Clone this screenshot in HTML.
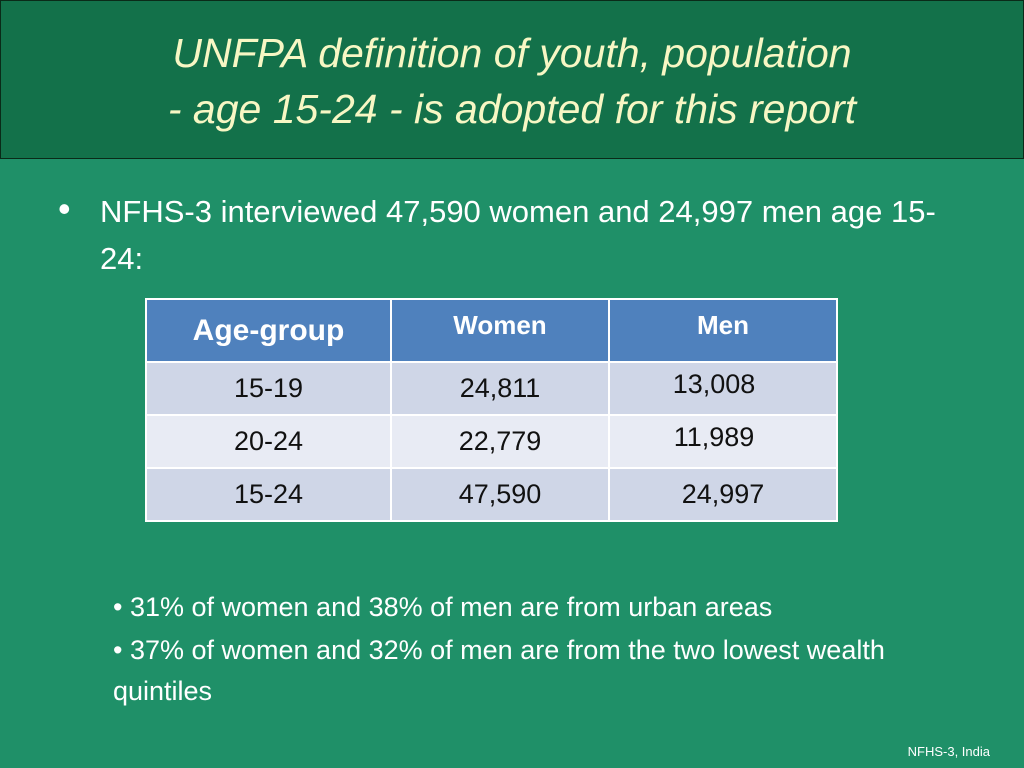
<!DOCTYPE html>
<html><head><meta charset="utf-8"><style>
body{margin:0;width:1024px;height:768px;background:#1f9068;font-family:"Liberation Sans",sans-serif;position:relative;overflow:hidden;color:#fff}
.hdr{position:absolute;left:0;top:0;width:1022px;height:157px;background:#13714a;border:1px solid #0a2a18}
.title{position:absolute;left:0;width:1024px;text-align:center;color:#f7f7c4;font-style:italic;font-size:41px;line-height:56px;top:25px}
.b{position:absolute;font-size:31px}
table{position:absolute;left:145px;top:298px;border-collapse:collapse;font-size:27px;color:#111}
td{border:2px solid #fff;text-align:center;padding:0}
th{border:2px solid #fff;background:#4f81bd;color:#fff;font-weight:bold;height:51px;padding:0}
.s{position:absolute;font-size:27px;left:113px}
</style></head><body>
<div class="hdr"></div>
<div class="title">UNFPA definition of youth, population<br>- age 15-24 - is adopted for this report</div>
<div class="b" style="left:58px;top:188px;font-size:36px">•</div>
<div class="b" style="left:100px;top:188px;line-height:47px;width:850px">NFHS-3 interviewed 47,590 women and 24,997 men age 15-24:</div>
<table>
<tr><th style="width:243px;font-size:30px">Age-group</th><th style="width:216px;font-size:26px;vertical-align:top;padding-top:10px">Women</th><th style="width:226px;font-size:26px;vertical-align:top;padding-top:10px">Men</th></tr>
<tr style="background:#cfd6e7;height:53px"><td>15-19</td><td>24,811</td><td style="vertical-align:top;padding-top:6px;padding-right:18px">13,008</td></tr>
<tr style="background:#e8ebf4;height:53px"><td>20-24</td><td>22,779</td><td style="vertical-align:top;padding-top:6px;padding-right:18px">11,989</td></tr>
<tr style="background:#cfd6e7;height:53px"><td>15-24</td><td>47,590</td><td>24,997</td></tr>
</table>
<div class="s" style="top:592px">• 31% of women and 38% of men are from urban areas</div>
<div class="s" style="top:630px;line-height:41px;width:815px">• 37% of women and 32% of men are from the two lowest wealth quintiles</div>
<div style="position:absolute;right:34px;top:744px;font-size:13px">NFHS-3, India</div>
</body></html>
